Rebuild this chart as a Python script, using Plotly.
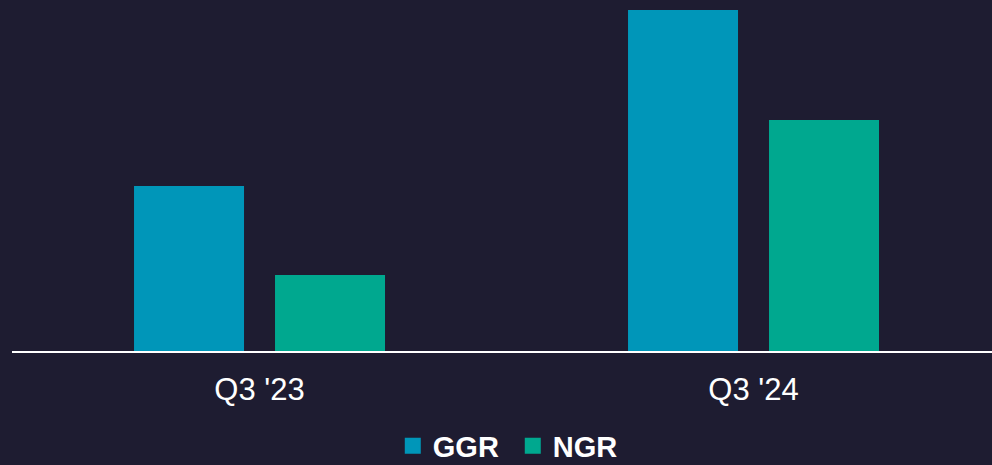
import plotly.graph_objects as go

categories = ["Q3 '23", "Q3 '24"]
ggr_values = [165, 341]
ngr_values = [76, 231]
series_names = ["GGR", "NGR"]
series_colors = ["#0096B9", "#00A88F"]

BG = "#1E1C31"
FONT = "Liberation Sans, Arial, sans-serif"

fig = go.Figure()
fig.add_trace(go.Bar(x=categories, y=ggr_values, name=series_names[0],
                     marker=dict(color=series_colors[0], line=dict(width=0)),
                     width=0.2227, offset=-0.254, showlegend=False))
fig.add_trace(go.Bar(x=categories, y=ngr_values, name=series_names[1],
                     marker=dict(color=series_colors[1], line=dict(width=0)),
                     width=0.2227, offset=0.0314, showlegend=False))
for name, color in zip(series_names, series_colors):
    fig.add_trace(go.Scatter(x=[None], y=[None], mode="markers", name=name,
                             marker=dict(symbol="square", size=16, color=color)))

fig.update_layout(
    width=992, height=465,
    paper_bgcolor=BG, plot_bgcolor=BG,
    margin=dict(l=12, r=0, t=10, b=114, autoexpand=False),
    barmode="overlay",
    font=dict(family=FONT, color="white"),
    xaxis=dict(type="category", range=[-0.501, 1.4828], showgrid=False,
               showline=True, linecolor="white", linewidth=2,
               ticks="", tickfont=dict(size=31, color="white"),
               ticklabelstandoff=10, zeroline=False, automargin=False),
    yaxis=dict(range=[0, 341], visible=False, showgrid=False, zeroline=False,
               automargin=False),
    legend=dict(orientation="h", x=0.511, xanchor="center", y=-0.278, yanchor="middle",
                font=dict(size=29, family=FONT, color="white", weight="bold"),
                bgcolor="rgba(0,0,0,0)", itemwidth=30, tracegroupgap=0,
                entrywidth=75, entrywidthmode="pixels"),
    showlegend=True,
)

fig.write_html("out.html", config={"displayModeBar": False},
               post_script="document.body.style.margin='0';document.body.style.padding='0';document.body.style.background='%s';" % BG)
